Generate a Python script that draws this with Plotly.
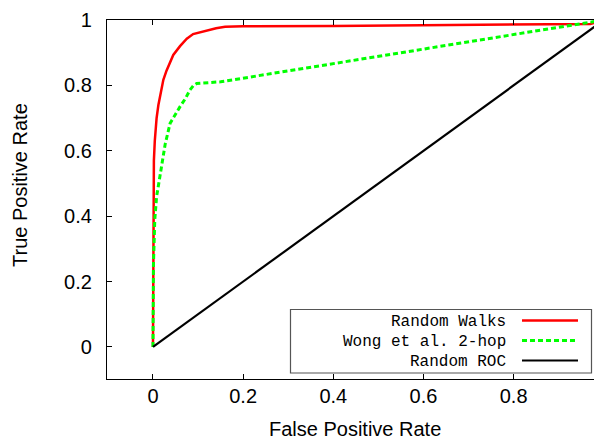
import plotly.graph_objects as go

# ---- data ----
rw_fpr = [0.0, 0.0003, 0.0008, 0.002, 0.004, 0.008, 0.012, 0.018, 0.023, 0.030, 0.038, 0.045,
          0.060, 0.075, 0.089, 0.105, 0.119, 0.140, 0.160, 0.200, 0.400, 0.600, 0.800, 0.970, 1.0]
rw_tpr = [0.0, 0.30, 0.50, 0.57, 0.63, 0.70, 0.74, 0.785, 0.817, 0.845, 0.870, 0.893,
          0.920, 0.943, 0.957, 0.963, 0.968, 0.975, 0.979, 0.981, 0.982, 0.984, 0.986, 0.988, 1.0]

wong_fpr = [0.0, 0.001, 0.004, 0.008, 0.014, 0.020, 0.027, 0.038, 0.050, 0.060, 0.072, 0.082,
            0.090, 0.097, 0.150, 1.0]
wong_tpr = [0.0, 0.25, 0.39, 0.46, 0.51, 0.56, 0.62, 0.684, 0.713, 0.735, 0.760, 0.786,
            0.800, 0.806, 0.811, 1.0]

rand_fpr = [0.0, 1.0]
rand_tpr = [0.0, 1.0]

names = ["Random Walks", "Wong et al. 2-hop", "Random ROC"]
colors = ["#ff0000", "#00ff00", "#000000"]
dashes = ["solid", "5px,3px", "solid"]
widths = [2.5, 3, 2.2]

x_ticks = [0, 0.2, 0.4, 0.6, 0.8]
y_ticks = [0, 0.2, 0.4, 0.6, 0.8, 1]

x_title = "False Positive Rate"
y_title = "True Positive Rate"

series = [(rw_fpr, rw_tpr), (wong_fpr, wong_tpr), (rand_fpr, rand_tpr)]

fig = go.Figure()
for (xs, ys), n, c, d, w in zip(series, names, colors, dashes, widths):
    fig.add_trace(go.Scatter(x=xs, y=ys, mode="lines", name=n,
                             line=dict(color=c, width=w, dash=d), showlegend=False))

# the page body has an 8px margin, so the figure is 8px smaller and all
# page-pixel positions are shifted by 8
OFF = 8
# plot area in page pixels: left 107, top 20, right 602, bottom 379
W, H, L, T = 495.0, 359.0, 107.0, 20.0
def px(xp):
    return (xp - L) / W
def py(yp):
    return (T + H - yp) / H

# custom legend (text right, sample line on the right, like gnuplot)
fig.add_shape(type="rect", xref="paper", yref="paper",
              x0=px(290.5), x1=px(591.5), y0=py(373), y1=py(309.5),
              line=dict(color="#555555", width=1.2), fillcolor="white", layer="above")
rows = [321.5, 341.5, 361.5]
for n, c, d, w, r in zip(names, colors, dashes, widths, rows):
    fig.add_annotation(x=px(508), y=py(r), xref="paper", yref="paper", text=n,
                       showarrow=False, xanchor="right", yanchor="middle",
                       font=dict(family="Liberation Mono", size=16, color="black"))
    fig.add_shape(type="line", xref="paper", yref="paper",
                  x0=px(522), x1=px(578), y0=py(r - 1), y1=py(r - 1),
                  line=dict(color=c, width=w, dash=d), layer="above")

title_font = dict(family="Liberation Sans", size=20, color="black")
fig.add_annotation(x=px(355), y=py(429), xref="paper", yref="paper", text=x_title,
                   showarrow=False, xanchor="center", yanchor="middle", font=title_font)
fig.add_annotation(x=px(20), y=py(185), xref="paper", yref="paper", text=y_title,
                   showarrow=False, xanchor="center", yanchor="middle", textangle=-90,
                   font=title_font)

axis_font = dict(family="Liberation Sans", size=20, color="black")
fig.update_layout(
    width=602 - OFF, height=440 - OFF,
    margin=dict(l=107 - OFF, r=0, t=20 - OFF, b=61, pad=0),
    paper_bgcolor="white", plot_bgcolor="white",
    font=dict(family="Liberation Sans", color="black"),
    xaxis=dict(range=[-0.102, 0.996], tickvals=x_ticks, ticktext=[f"{v:g}" for v in x_ticks],
               ticks="inside", ticklen=5, tickcolor="black", showline=True, linecolor="black",
               linewidth=1.2, mirror="ticks", showgrid=False, zeroline=False,
               tickfont=axis_font, ticklabelposition="outside", ticklabelstandoff=-1,
               automargin=False),
    yaxis=dict(range=[-0.098, 1.0], tickvals=y_ticks, ticktext=[f"{v:g}" for v in y_ticks],
               ticks="inside", ticklen=5, tickcolor="black", showline=True, linecolor="black",
               linewidth=1.2, showgrid=False, zeroline=False,
               tickfont=axis_font, ticklabelposition="outside", ticklabelstandoff=10,
               automargin=False),
)

fig.write_html("out.html")
